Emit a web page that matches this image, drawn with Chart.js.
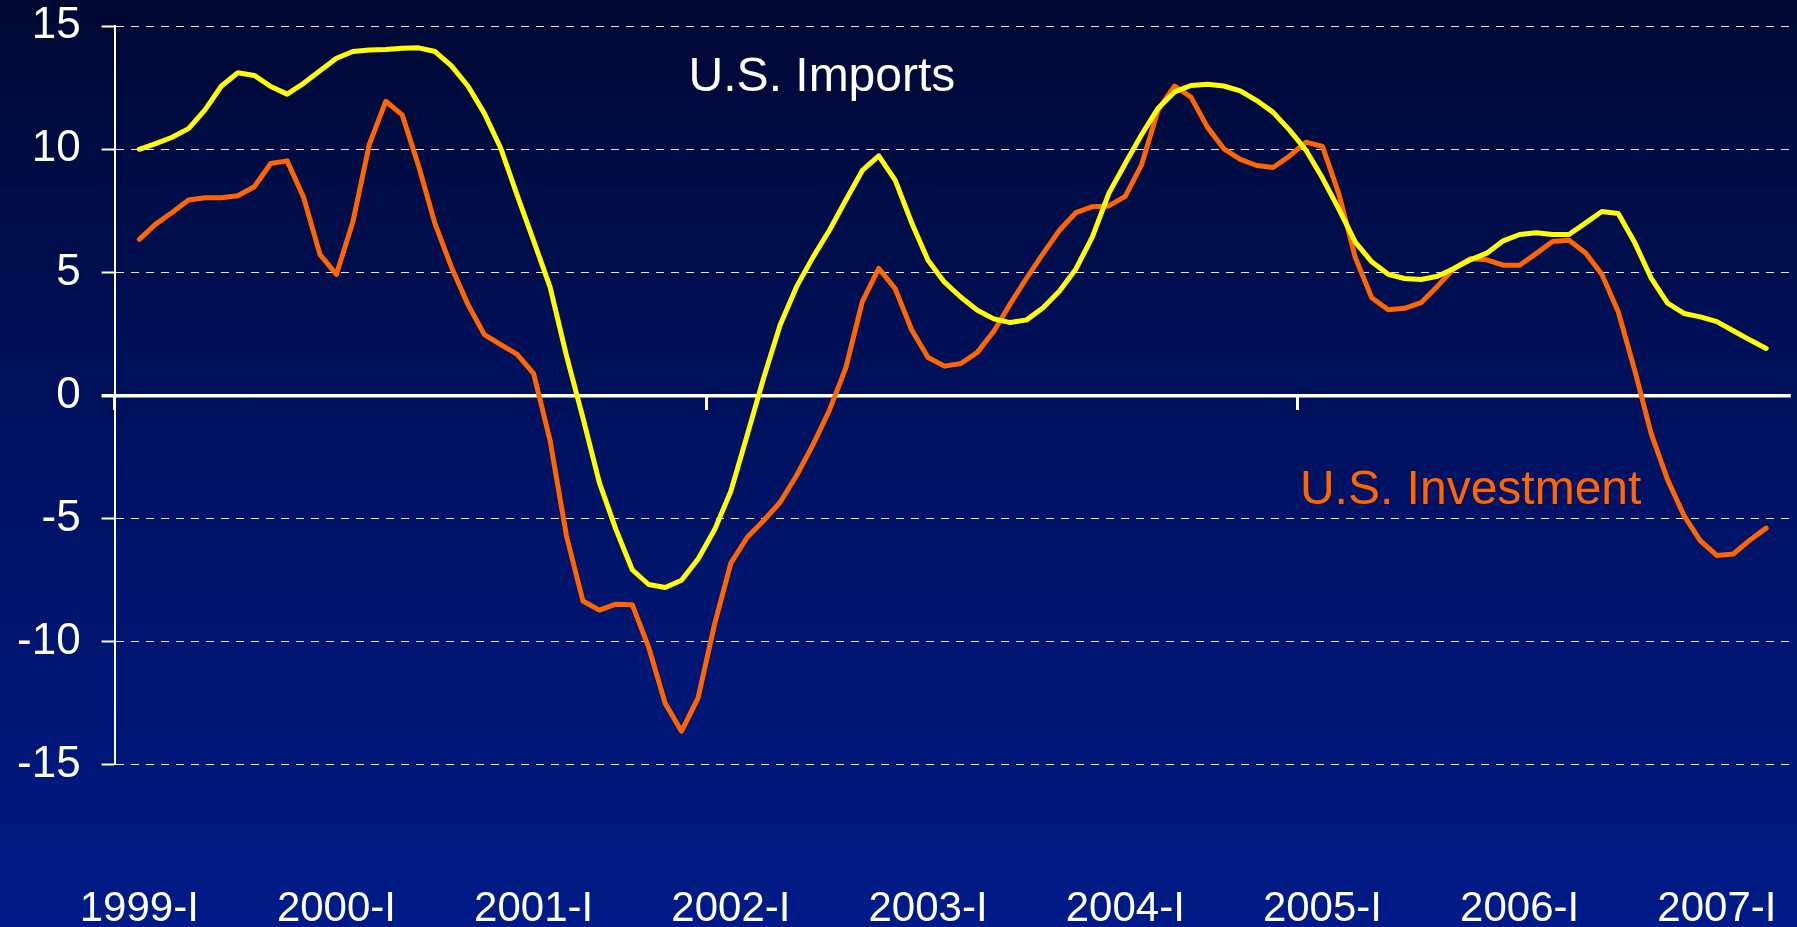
<!DOCTYPE html>
<html>
<head>
<meta charset="utf-8">
<script src="https://cdn.jsdelivr.net/npm/chart.js@4.4.1/dist/chart.umd.min.js"></script>
<style>
  html, body { margin: 0; padding: 0; overflow: hidden; }
  body { width: 1797px; height: 927px; background: linear-gradient(180deg, #000833 0%, #00115e 45%, #001b88 100%); }
  canvas { display: block; }
</style>
</head>
<body>
<canvas id="c" width="1797" height="927"></canvas>
<script>
// ---- data (monthly, starting 1999-I) ----
const yearLabels = ['1999-I','2000-I','2001-I','2002-I','2003-I','2004-I','2005-I','2006-I','2007-I'];

const usImports = [
  10.0, 10.23, 10.49, 10.84, 11.6, 12.57, 13.11, 13.0, 12.55, 12.24,
  12.68, 13.19, 13.7, 13.97, 14.03, 14.05, 14.1, 14.12, 13.97, 13.39,
  12.57, 11.46, 10.04, 8.13, 6.28, 4.40, 1.61, -0.91, -3.54, -5.43,
  -7.08, -7.68, -7.80, -7.51, -6.65, -5.47, -3.89, -1.60, 0.72, 2.86,
  4.42, 5.62, 6.71, 7.94, 9.14, 9.73, 8.75, 7.02, 5.49, 4.6,
  3.99, 3.46, 3.11, 2.96, 3.07, 3.56, 4.24, 5.14, 6.44, 8.21,
  9.42, 10.60, 11.67, 12.33, 12.59, 12.64, 12.57, 12.37, 11.98, 11.50,
  10.78, 9.96, 8.83, 7.57, 6.23, 5.43, 4.92, 4.75, 4.71, 4.84,
  5.16, 5.51, 5.78, 6.28, 6.54, 6.61, 6.54, 6.54, 7.00, 7.47,
  7.39, 6.21, 4.77, 3.75, 3.33, 3.19, 3.00, 2.63, 2.26, 1.91
];

const usInvestment = [
  6.34, 6.96, 7.43, 7.94, 8.03, 8.03, 8.11, 8.48, 9.42, 9.53,
  8.05, 5.72, 4.92, 7.06, 10.2, 11.95, 11.4, 9.32, 6.97, 5.21,
  3.70, 2.47, 2.06, 1.67, 0.89, -1.83, -5.72, -8.35, -8.72, -8.48,
  -8.50, -10.23, -12.5, -13.64, -12.30, -9.32, -6.81, -5.76, -5.08, -4.34,
  -3.25, -2.00, -0.60, 1.13, 3.81, 5.16, 4.34, 2.67, 1.54, 1.19,
  1.30, 1.75, 2.61, 3.72, 4.77, 5.76, 6.71, 7.43, 7.67, 7.70,
  8.09, 9.38, 11.60, 12.57, 12.12, 10.9, 10.02, 9.59, 9.34, 9.26,
  9.73, 10.29, 10.12, 8.19, 5.60, 3.97, 3.48, 3.54, 3.77, 4.44,
  5.16, 5.56, 5.51, 5.29, 5.29, 5.76, 6.25, 6.30, 5.80, 4.92,
  3.40, 1.03, -1.54, -3.42, -4.88, -5.91, -6.50, -6.44, -5.88, -5.39
];

const seriesNames = ['U.S. Imports', 'U.S. Investment'];

// ---- chart ----
const FONT = "'Liberation Sans', Arial, Helvetica, sans-serif";
const X_MIN = -1.5, X_MAX = 100.5;   // axis spans 34 quarters (in months)

const textLabels = {
  id: 'textLabels',
  afterDraw(chart, args, opts) {
    const {ctx, scales} = chart;
    ctx.save();
    ctx.font = '48px ' + FONT;
    ctx.textAlign = 'left';
    ctx.textBaseline = 'alphabetic';
    for (const l of opts.items) {
      ctx.fillStyle = l.color;
      ctx.fillText(l.text, scales.x.getPixelForValue(l.x), scales.y.getPixelForValue(l.y));
    }
    ctx.restore();
  }
};

const noPad = (s) => { s.paddingLeft = 0; s.paddingRight = 0; s.paddingTop = 0; s.paddingBottom = 0; };

new Chart(document.getElementById('c'), {
  type: 'line',
  data: {
    datasets: [
      {
        label: seriesNames[0],
        data: usImports.map((v, i) => ({x: i, y: v})),
        borderColor: '#FFFF00',
        borderWidth: 5,
        pointRadius: 0,
        tension: 0,
        borderJoinStyle: 'round',
        borderCapStyle: 'round',
        xAxisID: 'x', yAxisID: 'y'
      },
      {
        label: seriesNames[1],
        data: usInvestment.map((v, i) => ({x: i, y: v})),
        borderColor: '#FF6600',
        borderWidth: 5,
        pointRadius: 0,
        tension: 0,
        borderJoinStyle: 'round',
        borderCapStyle: 'round',
        xAxisID: 'x', yAxisID: 'y'
      }
    ]
  },
  options: {
    responsive: false,
    animation: false,
    devicePixelRatio: 1,
    layout: { padding: { top: 26.2, right: 6.2, left: 0, bottom: 0 } },
    plugins: {
      legend: { display: false },
      tooltip: { enabled: false },
      textLabels: {
        items: [
          { text: seriesNames[0], x: 33.43, y: 12.35, color: '#FFFFFF' },
          { text: seriesNames[1], x: 70.63, y: -4.42, color: '#FF6600' }
        ]
      }
    },
    scales: {
      x: {
        type: 'linear',
        position: 'bottom',
        min: X_MIN, max: X_MAX,
        grid: { display: false, drawTicks: true, tickLength: 120 },
        border: { display: false },
        afterBuildTicks: (s) => { s.ticks = yearLabels.map((_, i) => ({ value: i * 12 })); },
        afterFit: (s) => { s.height = 927 - 764.7; noPad(s); },
        ticks: {
          autoSkip: false, maxRotation: 0, minRotation: 0,
          padding: 0,
          color: '#FFFFFF',
          font: { family: FONT, size: 42 },
          callback: (v, i) => yearLabels[i]
        }
      },
      x2: {
        type: 'linear',
        position: { y: 0 },
        axis: 'x',
        min: X_MIN, max: X_MAX,
        afterBuildTicks: (s) => {
          const t = [];
          for (let v = X_MIN; v <= X_MAX; v += 36) t.push({ value: v });
          s.ticks = t;
        },
        afterFit: noPad,
        grid: {
          display: true, drawOnChartArea: false, drawTicks: true,
          tickLength: 15, tickWidth: 3, tickColor: '#FFFFFF', color: '#FFFFFF'
        },
        border: { display: false },
        ticks: { display: false }
      },
      y: {
        type: 'linear',
        position: 'left',
        min: -15, max: 15,
        afterFit: (s) => { s.width = 114.6; noPad(s); },
        ticks: {
          stepSize: 5,
          padding: 21,
          color: '#FFFFFF',
          font: { family: FONT, size: 44 }
        },
        grid: {
          drawTicks: true,
          tickLength: 13,
          tickColor: '#FFFFFF',
          tickWidth: (c) => (c.tick && c.tick.value === 0 ? 3.5 : 2),
          tickBorderDash: [],
          color: (c) => (c.tick && c.tick.value === 0 ? '#FFFFFF' : 'rgba(255,255,255,0.9)'),
          lineWidth: (c) => (c.tick && c.tick.value === 0 ? 3.5 : 1)
        },
        border: {
          display: true, color: '#FFFFFF', width: 2,
          dash: (c) => (c.tick && c.tick.value === 0 ? [] : [8, 7])
        }
      }
    }
  },
  plugins: [textLabels]
});
</script>
</body>
</html>
